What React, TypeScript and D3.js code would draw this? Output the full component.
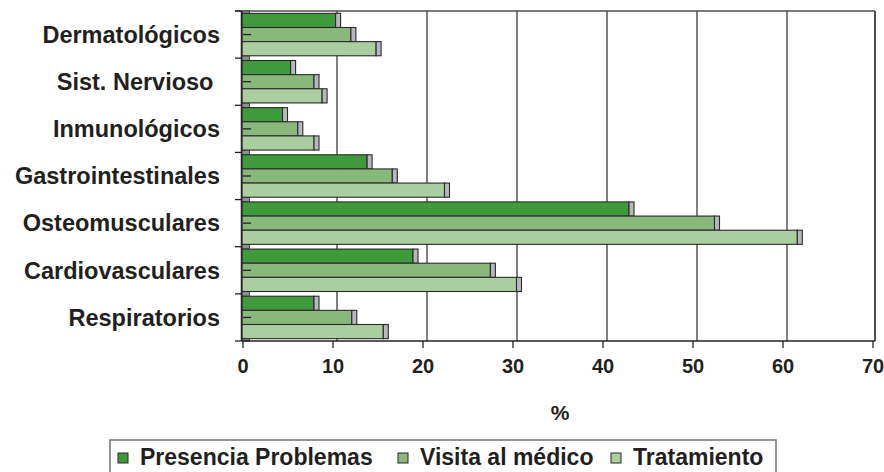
import React from "react";
import * as d3 from "d3";

const categories = [
  "Dermatológicos",
  "Sist. Nervioso ",
  "Inmunológicos",
  "Gastrointestinales",
  "Osteomusculares",
  "Cardiovasculares",
  "Respiratorios",
];
const seriesNames = ["Presencia Problemas", "Visita al médico", "Tratamiento"];
const presencia = [10.4, 5.4, 4.5, 13.9, 43.0, 19.0, 8.0];
const visita = [12.1, 8.0, 6.2, 16.7, 52.5, 27.6, 12.2];
const tratamiento = [14.9, 8.9, 8.0, 22.5, 61.7, 30.5, 15.7];
const xTicks = [0, 10, 20, 30, 40, 50, 60, 70];
const axisTitle = "%";

const colors = ["#3f9a3c", "#88b87a", "#abcea0"];
const FONT = "'Liberation Sans', Arial, sans-serif";
const INK = "#231f20";

export default function App() {
  const width = 884;
  const height = 472;
  const top = 11;
  const bottom = 341;

  const x = d3.scaleLinear().domain([0, 70]).range([242, 872]);
  const y = d3
    .scaleBand()
    .domain(categories)
    .range([top, bottom])
    .paddingInner(0.1)
    .paddingOuter(0.05);
  const step = y.step();
  const inner = d3
    .scaleBand()
    .domain(seriesNames)
    .range([0, y.bandwidth()]);

  const series = [presencia, visita, tratamiento];

  // grey depth stubs between the groups
  const stubs: [number, number][] = [];
  let prev = top;
  categories.forEach((c) => {
    const s = y(c) ?? 0;
    stubs.push([prev, s]);
    prev = s + y.bandwidth();
  });
  stubs.push([prev, bottom]);

  const boundaries = d3.range(categories.length + 1).map((i) => top + i * step);

  const legendItems = [
    { name: seriesNames[0], tx: 140 },
    { name: seriesNames[1], tx: 420 },
    { name: seriesNames[2], tx: 633 },
  ];

  return (
    <svg
      width={width}
      height={height}
      style={{ position: "absolute", left: 0, top: 0, background: "#fff" }}
      fontFamily={FONT}
      fontWeight="bold"
    >
      {/* top frame */}
      <line x1={235} x2={x(70) + 3} y1={top} y2={top} stroke="#7a7a7a" strokeWidth={2} />
      {/* gridlines on the back wall */}
      {xTicks.slice(1, -1).map((t) => (
        <line
          key={t}
          x1={x(t) + 5}
          x2={x(t) + 5}
          y1={top}
          y2={bottom}
          stroke="#4a4a4a"
          strokeWidth={1.4}
        />
      ))}
      <line x1={x(70) + 3} x2={x(70) + 3} y1={top} y2={bottom} stroke="#222" strokeWidth={1.6} />

      {/* stubs */}
      {stubs.map(([a, b], i) => (
        <rect
          key={i}
          x={x(0)}
          y={a}
          width={7.5}
          height={Math.max(0, b - a)}
          fill="#8f9098"
          stroke="#333"
          strokeWidth={0.8}
        />
      ))}

      {/* bars */}
      {categories.map((c, ci) => (
        <g key={c} transform={`translate(0,${y(c)})`}>
          {series.map((vals, si) => {
            const yy = inner(seriesNames[si]) ?? 0;
            const h = inner.bandwidth();
            return (
              <g key={si}>
                <rect
                  x={x(0)}
                  y={yy}
                  width={x(vals[ci]) - x(0)}
                  height={h}
                  fill={colors[si]}
                  stroke="#2a2a2a"
                  strokeWidth={1.1}
                />
                <rect
                  x={x(vals[ci])}
                  y={yy}
                  width={5}
                  height={h}
                  fill="#b7b7bf"
                  stroke="#2a2a2a"
                  strokeWidth={1.1}
                />
              </g>
            );
          })}
          <line
            x1={x(0) + 1}
            x2={x(0) + 9}
            y1={y.bandwidth() / 2}
            y2={y.bandwidth() / 2}
            stroke="#222"
            strokeWidth={1.3}
          />
        </g>
      ))}

      {/* left axis */}
      <line x1={241.5} x2={241.5} y1={top} y2={bottom} stroke="#222" strokeWidth={1.5} />
      {boundaries.map((b, i) => (
        <line key={i} x1={235} x2={241.5} y1={b} y2={b} stroke="#222" strokeWidth={1.3} />
      ))}
      {categories.map((c) => (
        <text
          key={c}
          x={220}
          y={(y(c) ?? 0) + y.bandwidth() / 2}
          dy="0.35em"
          textAnchor="end"
          fontSize={23.5}
          fill={INK}
          style={{ whiteSpace: "pre" }}
        >
          {c}
        </text>
      ))}

      {/* bottom axis */}
      <line x1={241.5} x2={x(70) + 3} y1={bottom} y2={bottom} stroke="#222" strokeWidth={1.6} />
      {xTicks.map((t) => (
        <g key={t}>
          <line x1={x(t) + 1} x2={x(t) + 1} y1={bottom} y2={bottom + 7} stroke="#222" strokeWidth={1.3} />
          <text x={x(t) + 1} y={373} textAnchor="middle" fontSize={20} fill={INK}>
            {t}
          </text>
        </g>
      ))}
      <text x={(x(0) + x(70)) / 2 + 3} y={420} textAnchor="middle" fontSize={21} fill={INK}>
        {axisTitle}
      </text>

      {/* legend */}
      <rect x={110} y={440} width={666} height={50} fill="#fff" stroke="#7a7a7a" strokeWidth={1.6} />
      {legendItems.map((it, i) => (
        <g key={it.name}>
          <rect
            x={it.tx - 22}
            y={453}
            width={10}
            height={10}
            fill={colors[i]}
            stroke="#2a2a2a"
            strokeWidth={1}
          />
          <text x={it.tx} y={465} fontSize={23} fill={INK}>
            {it.name}
          </text>
        </g>
      ))}
    </svg>
  );
}
